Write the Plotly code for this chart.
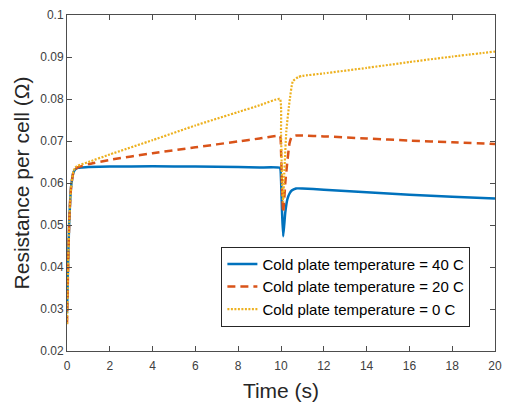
import plotly.graph_objects as go

# Time samples (s)
t40 = [0, 0.03, 0.06, 0.1, 0.15, 0.2, 0.3, 0.4, 0.5, 0.7, 1, 2, 4, 6, 8, 9, 9.95, 10.0, 10.05, 10.1, 10.15, 10.2, 10.3, 10.4, 10.5, 10.7, 11, 12, 14, 16, 18, 20]
r40 = [0.029, 0.036, 0.043, 0.050, 0.056, 0.0595, 0.0625, 0.0633, 0.0636, 0.0637, 0.0638, 0.0639, 0.0640, 0.0639, 0.0638, 0.0637, 0.0636, 0.0610, 0.0530, 0.0473, 0.0500, 0.0530, 0.0562, 0.0575, 0.0582, 0.0587, 0.0587, 0.0584, 0.0578, 0.0572, 0.0567, 0.0563]

t20 = [0, 0.03, 0.06, 0.1, 0.15, 0.2, 0.3, 0.4, 0.5, 1, 2, 4, 6, 8, 9, 9.95, 10.0, 10.05, 10.1, 10.15, 10.2, 10.3, 10.4, 10.5, 10.7, 11, 12, 14, 16, 18, 20]
r20 = [0.0264, 0.034, 0.042, 0.050, 0.056, 0.0595, 0.0625, 0.0633, 0.0637, 0.0645, 0.0655, 0.0671, 0.0685, 0.0699, 0.0706, 0.0712, 0.0680, 0.0580, 0.0530, 0.0560, 0.0600, 0.0653, 0.0695, 0.0710, 0.0713, 0.0713, 0.0711, 0.0706, 0.0701, 0.0697, 0.0693]

t0 = [0, 0.03, 0.06, 0.1, 0.15, 0.2, 0.3, 0.4, 0.5, 1, 2, 4, 6, 8, 9, 9.95, 10.0, 10.05, 10.1, 10.15, 10.25, 10.4, 10.55, 10.8, 11, 12, 14, 16, 18, 20]
r0 = [0.0264, 0.034, 0.042, 0.050, 0.056, 0.0597, 0.0628, 0.0638, 0.0641, 0.0650, 0.0668, 0.0702, 0.0737, 0.0769, 0.0785, 0.0800, 0.0720, 0.0600, 0.0555, 0.0620, 0.0724, 0.0795, 0.0842, 0.0852, 0.0855, 0.0861, 0.0874, 0.0888, 0.0901, 0.0913]

x_ticks = [0, 2, 4, 6, 8, 10, 12, 14, 16, 18, 20]
y_ticks = [0.02, 0.03, 0.04, 0.05, 0.06, 0.07, 0.08, 0.09, 0.1]
y_tick_text = ["0.02", "0.03", "0.04", "0.05", "0.06", "0.07", "0.08", "0.09", "0.1"]

fig = go.Figure()
fig.add_trace(go.Scatter(x=t40, y=r40, mode="lines", name="Cold plate temperature = 40 C",
                         line=dict(color="#0072BD", width=2.5, shape="spline", smoothing=0.4)))
fig.add_trace(go.Scatter(x=t20, y=r20, mode="lines", name="Cold plate temperature = 20 C",
                         line=dict(color="#D95319", width=2.5, dash="8px,5px", shape="spline", smoothing=0.4)))
fig.add_trace(go.Scatter(x=t0, y=r0, mode="lines", name="Cold plate temperature = 0 C",
                         line=dict(color="#EDB120", width=2.2, dash="2px,1.5px", shape="spline", smoothing=0.4)))

axis_common = dict(showline=True, linecolor="#4d4d4d", linewidth=1, mirror="ticks",
                   ticks="inside", ticklen=5, tickcolor="#4d4d4d", showgrid=False, zeroline=False,
                   tickfont=dict(family="Liberation Sans, Arial, sans-serif", size=12, color="#404040"))

fig.update_layout(
    width=510, height=406,
    margin=dict(l=67, r=8, t=13, b=54),
    paper_bgcolor="white", plot_bgcolor="white",
    font=dict(family="Liberation Sans, Arial, sans-serif", color="#262626"),
    xaxis=dict(range=[0, 20], tickvals=x_ticks, ticklabelstandoff=4,
               title=dict(text="Time (s)", font=dict(size=21, color="#262626"), standoff=10),
               **axis_common),
    yaxis=dict(range=[0.02, 0.1], tickvals=y_ticks, ticktext=y_tick_text,
               title=dict(text="Resistance per cell (Ω)", font=dict(size=21, color="#262626"), standoff=4),
               **axis_common),
    legend=dict(x=0.9425, y=0.072, xanchor="right", yanchor="bottom",
                bgcolor="white", bordercolor="#262626", borderwidth=1,
                font=dict(size=15, color="#000000"), tracegroupgap=0),
    showlegend=True,
)

fig.write_html("out.html")
